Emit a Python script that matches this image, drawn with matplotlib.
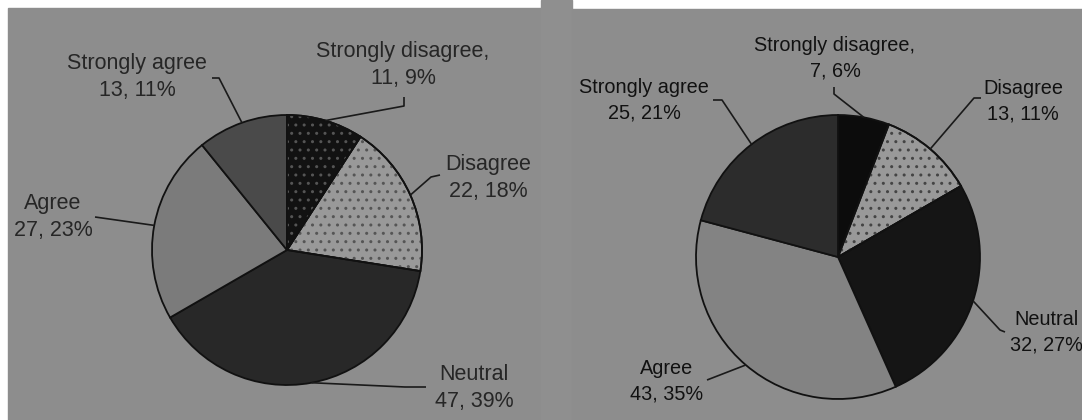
import matplotlib.pyplot as plt
import numpy as np

plt.rcParams['font.family'] = ['Liberation Sans', 'DejaVu Sans']

W, H = 1082, 420

categories = ["Strongly disagree", "Disagree", "Neutral", "Agree", "Strongly agree"]

# survey A (left pie)
counts_a = [11, 22, 47, 27, 13]
pcts_a = [9, 18, 39, 23, 11]

# survey B (right pie)
counts_b = [7, 13, 32, 43, 25]
pcts_b = [6, 11, 27, 35, 21]


def px(x, y):
    # screen pixels (y down) -> data coords (y up)
    return x, H - y


def label_text(name, count, pct):
    first = name + ("," if name == "Strongly disagree" else "")
    return f"{first}\n{count}, {pct}%"


def draw_pie(ax, counts, pcts, center, radius, faces, dots, text_pos, anchors,
             fontsize, textcolor):
    cx, cy = px(*center)
    wedges, _ = ax.pie(counts, radius=radius, center=(cx, cy), startangle=90,
                       counterclock=False, colors=faces, frame=True,
                       wedgeprops=dict(edgecolor='#111111', linewidth=1.3))
    # dotted fills drawn on top of the solid tone
    for w, d in zip(wedges, dots):
        if d is None:
            continue
        hatch, hcol = d
        ov = plt.matplotlib.patches.Wedge((cx, cy), radius, w.theta1, w.theta2,
                                          facecolor='none', edgecolor=hcol,
                                          linewidth=0, hatch=hatch, zorder=w.get_zorder() + 0.1)
        ax.add_patch(ov)
        edge = plt.matplotlib.patches.Wedge((cx, cy), radius, w.theta1, w.theta2,
                                            facecolor='none', edgecolor='#111111',
                                            linewidth=1.3, zorder=w.get_zorder() + 0.2)
        ax.add_patch(edge)

    for w, name, c, p, tp, anc in zip(wedges, categories, counts, pcts, text_pos, anchors):
        tx, ty = px(*tp)
        ax.text(tx, ty, label_text(name, c, p), ha='center', va='center',
                fontsize=fontsize, color=textcolor, linespacing=1.42, zorder=5)
        mid = np.deg2rad((w.theta1 + w.theta2) / 2)
        ex, ey = cx + radius * np.cos(mid), cy + radius * np.sin(mid)
        pts = [px(*a) for a in anc] + [(ex, ey)]
        xs, ys = zip(*pts)
        ax.plot(xs, ys, color='#1a1a1a', lw=1.2, zorder=4, solid_capstyle='butt')


fig = plt.figure(figsize=(W / 100, H / 100), dpi=100, facecolor='white')
ax = fig.add_axes([0, 0, 1, 1])
ax.set_xlim(0, W)
ax.set_ylim(0, H)
ax.set_aspect('equal')
ax.axis('off')

bg = '#8d8d8d'
ax.add_patch(plt.Rectangle(px(8, H), 541 - 8, H - 8, color=bg, zorder=0))
ax.add_patch(plt.Rectangle(px(541, H), 31, H, color='#8f8f8f', zorder=0))
ax.add_patch(plt.Rectangle(px(572, H), W - 572, H - 9, color=bg, zorder=0))

faces_a = ['#121212', '#999999', '#282828', '#7b7b7b', '#4a4a4a']
dots_a = [('..', '#555555'), ('..', '#555555'), None, None, None]
draw_pie(ax, counts_a, pcts_a, (287, 250), 135, faces_a, dots_a,
         text_pos=[(403, 65), (488, 178), (474, 388), (53, 217), (137, 77)],
         anchors=[[(404, 97), (404, 106)], [(440, 175), (431, 177)],
                  [(426, 387), (405, 387)], [(95, 217)], [(212, 78), (219, 78)]],
         fontsize=15.5, textcolor='#262626')

faces_b = ['#0c0c0c', '#999999', '#151515', '#838383', '#2c2c2c']
dots_b = [None, ('..', '#444444'), None, None, None]
draw_pie(ax, counts_b, pcts_b, (838, 257), 142, faces_b, dots_b,
         text_pos=[(835, 58), (1023, 101), (1046, 332), (667, 381), (644, 100)],
         anchors=[[(834, 87), (834, 94)], [(981, 98), (974, 98)],
                  [(1005, 332), (1000, 330)], [(707, 380)], [(713, 100), (722, 100)]],
         fontsize=14.3, textcolor='#111111')

ax.set_xlim(0, W)
ax.set_ylim(0, H)
ax.axis('off')

fig.savefig('out.png', dpi=100, facecolor='white')
